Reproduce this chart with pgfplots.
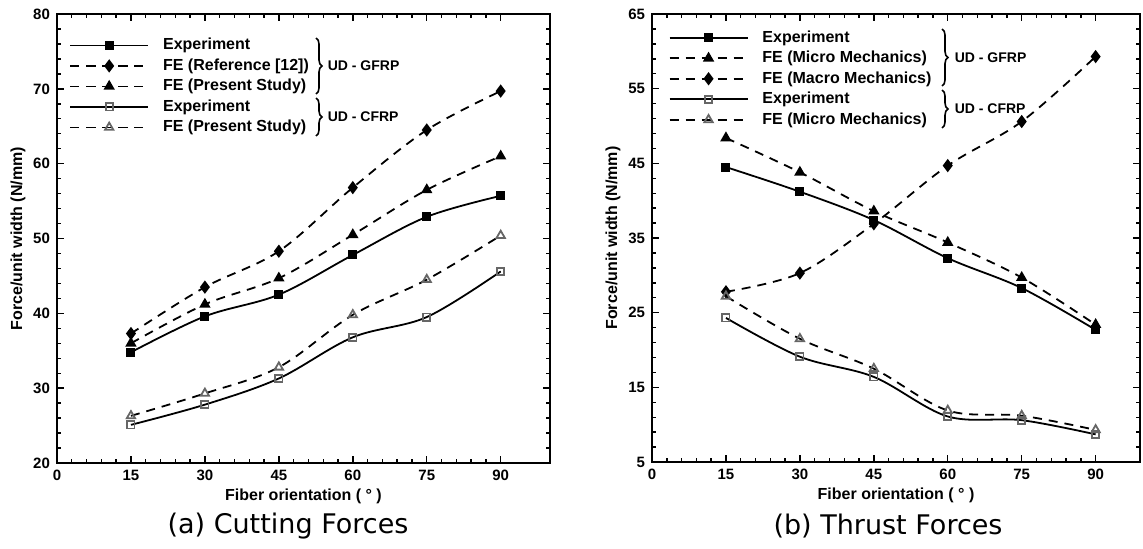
\documentclass[border=0pt]{standalone}
\usepackage{fontspec}
\setmainfont{Liberation Sans}
\newfontfamily\capfont{DejaVu Sans}
\usepackage{pgfplots}
\pgfplotsset{compat=1.18}
\usetikzlibrary{decorations.pathreplacing}

\pgfplotsset{
  forceaxis/.style={
    scale only axis,
    anchor=south west,
    axis line style={line width=1.3pt},
    tick align=inside,
    xtick pos=both, ytick pos=both,
    major tick length=3.5pt, minor tick length=2pt,
    every tick/.style={black, line width=0.7pt},
    minor x tick num=4, minor y tick num=4,
    xtick={0,15,...,90},
    xmin=0,
    tick label style={font=\fontsize{7.5}{8}\selectfont\bfseries},
    /pgf/number format/assume math mode=true,
    label style={font=\fontsize{8}{9}\selectfont\bfseries},
    xlabel={Fiber orientation ( \textdegree\ )},
    ylabel={Force/unit width (N/mm)},
    xlabel style={yshift=3pt},
    ylabel style={yshift=-3pt},
    legend cell align=left,
    legend style={draw=none, fill=none, anchor=north west,
      font=\fontsize{8}{9}\selectfont\bfseries,
      row sep=0.75pt, column sep=6pt,
      nodes={inner sep=1pt, text height=6pt, text depth=1.5pt}},
    legend image code/.code={
      \draw[mark repeat=2, mark phase=2]
        plot coordinates {(0pt,0pt) (19.5pt,0pt) (39pt,0pt)};},
  },
  expline/.style={black, line width=0.9pt, solid, smooth, tension=0.55},
  feline/.style={black, line width=0.9pt, dash pattern=on 4.5pt off 3.5pt, smooth, tension=0.55},
  fsq/.style={mark=square*, mark size=1.8pt, mark options={solid, fill=black}},
  osq/.style={mark=square, mark size=1.8pt, mark options={solid, draw=black!60, fill=white}},
  fdia/.style={mark=diamond*, mark size=2.6pt, mark options={solid, fill=black}},
  ftri/.style={mark=triangle*, mark size=2.4pt, mark options={solid, fill=black}},
  otri/.style={mark=triangle, mark size=2.4pt, mark options={solid, draw=black!60, fill=white}},
}

\begin{document}
\begin{tikzpicture}
\useasboundingbox (0,0) rectangle (571.5pt,274pt);

% (a) cutting forces
\begin{axis}[forceaxis,
  at={(28.5pt,42.5pt)}, width=246.5pt, height=224.5pt,
  xmax=100, ymin=20, ymax=80, ytick={20,30,...,80},
  legend style={at={(axis description cs:0.012,0.961)}},
]
\addplot[expline, fsq] coordinates {(15,34.8) (30,39.6) (45,42.5) (60,47.8) (75,52.9) (90,55.7)};
\addlegendentry{Experiment}
\addplot[feline, fdia] coordinates {(15,37.3) (30,43.5) (45,48.3) (60,56.8) (75,64.5) (90,69.7)};
\addlegendentry{FE (Reference [12])}
\addplot[feline, ftri] coordinates {(15,36.0) (30,41.2) (45,44.7) (60,50.5) (75,56.5) (90,61.0)};
\addlegendentry{FE (Present Study)}
\addplot[expline, osq] coordinates {(15,25.1) (30,27.8) (45,31.3) (60,36.8) (75,39.5) (90,45.6)};
\addlegendentry{Experiment}
\addplot[feline, otri] coordinates {(15,26.3) (30,29.3) (45,32.8) (60,39.8) (75,44.5) (90,50.4)};
\addlegendentry{FE (Present Study)}
\end{axis}

% (b) thrust forces
\begin{axis}[forceaxis,
  at={(326pt,43pt)}, width=244pt, height=224pt,
  xmax=99, ymin=5, ymax=65, ytick={5,15,...,65},
  legend style={at={(axis description cs:0.021,0.978)}},
]
\addplot[expline, fsq] coordinates {(15,44.5) (30,41.2) (45,37.4) (60,32.3) (75,28.3) (90,22.7)};
\addlegendentry{Experiment}
\addplot[feline, ftri] coordinates {(15,48.4) (30,43.8) (45,38.6) (60,34.4) (75,29.7) (90,23.4)};
\addlegendentry{FE (Micro Mechanics)}
\addplot[feline, fdia] coordinates {(15,27.8) (30,30.3) (45,36.9) (60,44.7) (75,50.6) (90,59.3)};
\addlegendentry{FE (Macro Mechanics)}
\addplot[expline, osq] coordinates {(15,24.3) (30,19.1) (45,16.4) (60,11.1) (75,10.6) (90,8.7)};
\addlegendentry{Experiment}
\addplot[feline, otri] coordinates {(15,27.2) (30,21.5) (45,17.5) (60,11.9) (75,11.2) (90,9.3)};
\addlegendentry{FE (Micro Mechanics)}
\end{axis}

% group braces beside the legends
\begin{scope}[line width=0.8pt, decoration={brace, amplitude=3pt},
  every node/.style={font=\fontsize{7}{8}\selectfont\bfseries, anchor=west, inner sep=0pt}]
  \draw[decorate] (158pt,255pt) -- (158pt,227pt);
  \node at (163.5pt,241pt) {UD - GFRP};
  \draw[decorate] (158pt,225pt) -- (158pt,206pt);
  \node at (163.5pt,215.5pt) {UD - CFRP};
  \draw[decorate] (471pt,259.5pt) -- (471pt,231pt);
  \node at (477pt,245.25pt) {UD - GFRP};
  \draw[decorate] (471pt,229pt) -- (471pt,210pt);
  \node at (477pt,219.5pt) {UD - CFRP};
\end{scope}

% panel captions
\node[font=\capfont\fontsize{13.5}{15}\selectfont] at (144pt,11pt) {(a) Cutting Forces};
\node[font=\capfont\fontsize{13.5}{15}\selectfont] at (444pt,11pt) {(b) Thrust Forces};
\end{tikzpicture}
\end{document}
